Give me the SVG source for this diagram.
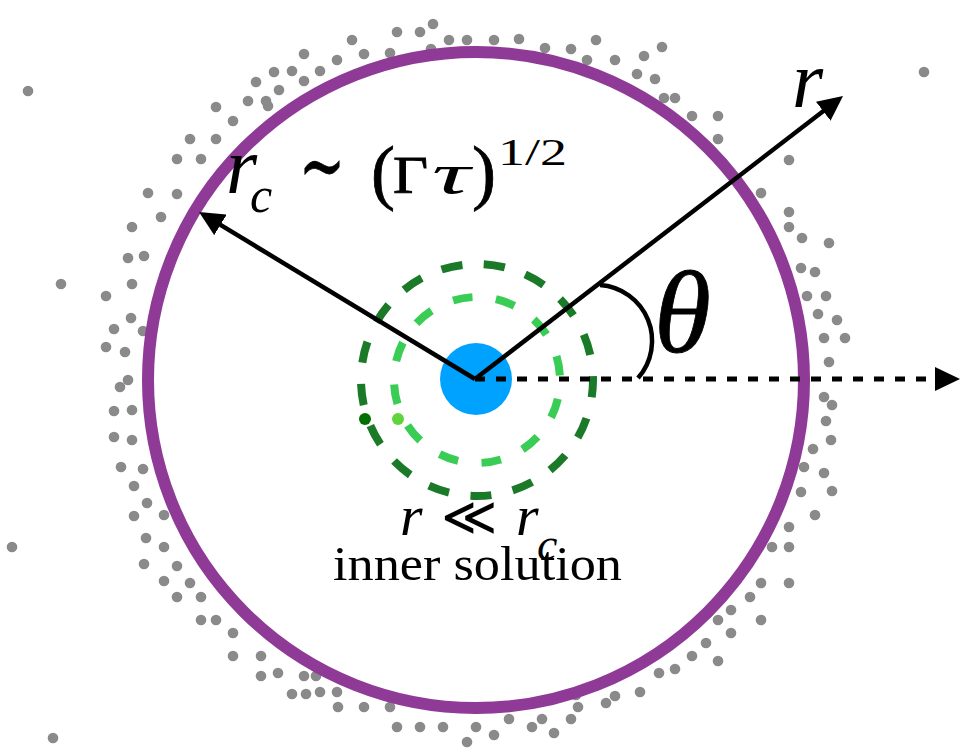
<svg xmlns="http://www.w3.org/2000/svg" width="970" height="748" viewBox="0 0 970 748">
<style>
.dot{fill:#8a8a8a}
.serif{font-family:"Liberation Serif","Times New Roman",serif;fill:#000}
.it{font-style:italic}
.ln{stroke:#000;stroke-width:4.5;fill:none}
.bold{stroke:#000;stroke-width:0.8}
</style>
<defs>
<marker id="ah" viewBox="0 0 25 24" refX="13" refY="12" markerWidth="25" markerHeight="24" markerUnits="userSpaceOnUse" orient="auto">
<path d="M0,0 L25,12 L0,24 z" fill="#000"/>
</marker>
</defs>
<rect width="970" height="748" fill="#fff"/>
<g id="particles">
<circle class="dot" cx="28" cy="91" r="5.3"/><circle class="dot" cx="304" cy="54" r="5.3"/><circle class="dot" cx="352" cy="40" r="5.3"/><circle class="dot" cx="397" cy="32" r="5.3"/><circle class="dot" cx="420" cy="32" r="5.3"/><circle class="dot" cx="433" cy="24" r="5.3"/><circle class="dot" cx="449" cy="40" r="5.3"/><circle class="dot" cx="467" cy="40" r="5.3"/><circle class="dot" cx="364" cy="54" r="5.3"/><circle class="dot" cx="390" cy="53" r="5.3"/><circle class="dot" cx="431" cy="49" r="5.3"/><circle class="dot" cx="337" cy="60" r="5.3"/><circle class="dot" cx="320" cy="71" r="5.3"/><circle class="dot" cx="292" cy="71" r="5.3"/><circle class="dot" cx="274" cy="72" r="5.3"/><circle class="dot" cx="304" cy="81" r="5.3"/><circle class="dot" cx="279" cy="90" r="5.3"/><circle class="dot" cx="256" cy="82" r="5.3"/><circle class="dot" cx="248" cy="101" r="5.3"/><circle class="dot" cx="266" cy="101" r="5.3"/><circle class="dot" cx="268" cy="106" r="5.3"/><circle class="dot" cx="216" cy="107" r="5.3"/><circle class="dot" cx="233" cy="121" r="5.3"/><circle class="dot" cx="190" cy="139" r="5.3"/><circle class="dot" cx="216" cy="139" r="5.3"/><circle class="dot" cx="177" cy="159" r="5.3"/><circle class="dot" cx="201" cy="159" r="5.3"/><circle class="dot" cx="148" cy="193" r="5.3"/><circle class="dot" cx="177" cy="194" r="5.3"/><circle class="dot" cx="161" cy="217" r="5.3"/><circle class="dot" cx="132" cy="227" r="5.3"/><circle class="dot" cx="128" cy="258" r="5.3"/><circle class="dot" cx="144" cy="256" r="5.3"/><circle class="dot" cx="61" cy="284" r="5.3"/><circle class="dot" cx="132" cy="284" r="5.3"/><circle class="dot" cx="106" cy="296" r="5.3"/><circle class="dot" cx="131" cy="318" r="5.3"/><circle class="dot" cx="114" cy="329" r="5.3"/><circle class="dot" cx="143" cy="331" r="5.3"/><circle class="dot" cx="106" cy="347" r="5.3"/><circle class="dot" cx="125" cy="352" r="5.3"/>
<circle class="dot" cx="494" cy="40" r="5.3"/><circle class="dot" cx="519" cy="39" r="5.3"/><circle class="dot" cx="545" cy="48" r="5.3"/><circle class="dot" cx="571" cy="49" r="5.3"/><circle class="dot" cx="596" cy="40" r="5.3"/><circle class="dot" cx="587" cy="60" r="5.3"/><circle class="dot" cx="615" cy="60" r="5.3"/><circle class="dot" cx="644" cy="56" r="5.3"/><circle class="dot" cx="662" cy="47" r="5.3"/><circle class="dot" cx="637" cy="74" r="5.3"/><circle class="dot" cx="655" cy="79" r="5.3"/><circle class="dot" cx="664" cy="98" r="5.3"/><circle class="dot" cx="675" cy="98" r="5.3"/><circle class="dot" cx="692" cy="116" r="5.3"/><circle class="dot" cx="718" cy="116" r="5.3"/><circle class="dot" cx="718" cy="139" r="5.3"/><circle class="dot" cx="924" cy="72" r="5.3"/><circle class="dot" cx="789" cy="160" r="5.3"/><circle class="dot" cx="761" cy="193" r="5.3"/><circle class="dot" cx="789" cy="212" r="5.3"/><circle class="dot" cx="789" cy="227" r="5.3"/><circle class="dot" cx="802" cy="238" r="5.3"/><circle class="dot" cx="829" cy="243" r="5.3"/><circle class="dot" cx="801" cy="268" r="5.3"/><circle class="dot" cx="815" cy="272" r="5.3"/><circle class="dot" cx="807" cy="296" r="5.3"/><circle class="dot" cx="826" cy="296" r="5.3"/><circle class="dot" cx="818" cy="314" r="5.3"/><circle class="dot" cx="837" cy="320" r="5.3"/><circle class="dot" cx="824" cy="338" r="5.3"/><circle class="dot" cx="845" cy="338" r="5.3"/><circle class="dot" cx="829" cy="362" r="5.3"/>
<circle class="dot" cx="128" cy="380" r="5.3"/><circle class="dot" cx="120" cy="387" r="5.3"/><circle class="dot" cx="114" cy="411" r="5.3"/><circle class="dot" cx="132" cy="410" r="5.3"/><circle class="dot" cx="114" cy="437" r="5.3"/><circle class="dot" cx="132" cy="440" r="5.3"/><circle class="dot" cx="121" cy="467" r="5.3"/><circle class="dot" cx="143" cy="469" r="5.3"/><circle class="dot" cx="134" cy="486" r="5.3"/><circle class="dot" cx="147" cy="503" r="5.3"/><circle class="dot" cx="134" cy="516" r="5.3"/><circle class="dot" cx="164" cy="515" r="5.3"/><circle class="dot" cx="12" cy="547" r="5.3"/><circle class="dot" cx="146" cy="538" r="5.3"/><circle class="dot" cx="164" cy="547" r="5.3"/><circle class="dot" cx="144" cy="564" r="5.3"/><circle class="dot" cx="177" cy="566" r="5.3"/><circle class="dot" cx="164" cy="581" r="5.3"/><circle class="dot" cx="190" cy="583" r="5.3"/><circle class="dot" cx="177" cy="597" r="5.3"/><circle class="dot" cx="201" cy="597" r="5.3"/><circle class="dot" cx="201" cy="620" r="5.3"/><circle class="dot" cx="216" cy="620" r="5.3"/><circle class="dot" cx="233" cy="633" r="5.3"/><circle class="dot" cx="233" cy="656" r="5.3"/><circle class="dot" cx="261" cy="656" r="5.3"/><circle class="dot" cx="261" cy="676" r="5.3"/><circle class="dot" cx="278" cy="673" r="5.3"/><circle class="dot" cx="304" cy="676" r="5.3"/><circle class="dot" cx="316" cy="676" r="5.3"/><circle class="dot" cx="292" cy="694" r="5.3"/><circle class="dot" cx="306" cy="694" r="5.3"/><circle class="dot" cx="320" cy="692" r="5.3"/><circle class="dot" cx="337" cy="692" r="5.3"/><circle class="dot" cx="338" cy="707" r="5.3"/><circle class="dot" cx="364" cy="707" r="5.3"/><circle class="dot" cx="390" cy="707" r="5.3"/><circle class="dot" cx="397" cy="727" r="5.3"/><circle class="dot" cx="420" cy="727" r="5.3"/><circle class="dot" cx="443" cy="727" r="5.3"/><circle class="dot" cx="476" cy="727" r="5.3"/><circle class="dot" cx="467" cy="742" r="5.3"/><circle class="dot" cx="53" cy="738" r="5.3"/>
<circle class="dot" cx="824" cy="397" r="5.3"/><circle class="dot" cx="832" cy="405" r="5.3"/><circle class="dot" cx="826" cy="421" r="5.3"/><circle class="dot" cx="831" cy="440" r="5.3"/><circle class="dot" cx="813" cy="449" r="5.3"/><circle class="dot" cx="804" cy="467" r="5.3"/><circle class="dot" cx="824" cy="473" r="5.3"/><circle class="dot" cx="801" cy="492" r="5.3"/><circle class="dot" cx="832" cy="491" r="5.3"/><circle class="dot" cx="815" cy="515" r="5.3"/><circle class="dot" cx="789" cy="527" r="5.3"/><circle class="dot" cx="772" cy="547" r="5.3"/><circle class="dot" cx="789" cy="547" r="5.3"/><circle class="dot" cx="761" cy="583" r="5.3"/><circle class="dot" cx="789" cy="583" r="5.3"/><circle class="dot" cx="750" cy="597" r="5.3"/><circle class="dot" cx="731" cy="610" r="5.3"/><circle class="dot" cx="718" cy="620" r="5.3"/><circle class="dot" cx="761" cy="620" r="5.3"/><circle class="dot" cx="731" cy="633" r="5.3"/><circle class="dot" cx="706" cy="643" r="5.3"/><circle class="dot" cx="692" cy="656" r="5.3"/><circle class="dot" cx="718" cy="661" r="5.3"/><circle class="dot" cx="675" cy="669" r="5.3"/><circle class="dot" cx="659" cy="673" r="5.3"/><circle class="dot" cx="640" cy="692" r="5.3"/><circle class="dot" cx="615" cy="696" r="5.3"/><circle class="dot" cx="606" cy="703" r="5.3"/><circle class="dot" cx="576" cy="695" r="5.3"/><circle class="dot" cx="578" cy="707" r="5.3"/><circle class="dot" cx="571" cy="719" r="5.3"/><circle class="dot" cx="542" cy="719" r="5.3"/><circle class="dot" cx="532" cy="727" r="5.3"/><circle class="dot" cx="554" cy="733" r="5.3"/><circle class="dot" cx="509" cy="719" r="5.3"/><circle class="dot" cx="494" cy="735" r="5.3"/>
</g>
<g id="critical-radius-circle">
<circle cx="476" cy="380" r="328" fill="none" stroke="#8e3a96" stroke-width="12"/>
</g>
<g id="outer-ring">
<circle cx="477" cy="380" r="116" fill="none" stroke="#1a7a28" stroke-width="8" pathLength="360" stroke-dasharray="10.5 10.676" stroke-dashoffset="1.9"/>
<circle cx="365" cy="419" r="6" fill="#007000"/>
</g>
<g id="inner-ring">
<circle cx="477" cy="380" r="83" fill="none" stroke="#3acd55" stroke-width="8" pathLength="360" stroke-dasharray="13.6 16.4" stroke-dashoffset="-13.2"/>
<circle cx="398" cy="419" r="6" fill="#5fd43c"/>
</g>
<g id="center">
<circle cx="476" cy="379" r="36" fill="#00a2ff"/>
</g>
<g id="connectors">
<line class="ln" x1="475" y1="379" x2="209.3" y2="218.2" marker-end="url(#ah)"/>
<line class="ln" x1="475" y1="379" x2="833.5" y2="103.3" marker-end="url(#ah)"/>
<line x1="475" y1="379" x2="948" y2="379" stroke="#000" stroke-width="5" stroke-dasharray="10 11" marker-end="url(#ah)"/>
<path class="ln" d="M600,285 A56,56 0 0 1 638,378" stroke-width="4"/>
</g>
<g id="labels">
<text class="serif it" x="226" y="193" font-size="80">r</text>
<text class="serif it" x="250" y="212" font-size="50">c</text>
<text class="bold" x="299" y="194" font-size="84" font-family="DejaVu Serif, serif" textLength="46" lengthAdjust="spacingAndGlyphs">∼</text>
<text class="serif bold" x="371" y="196" font-size="72">(</text>
<text class="serif bold" x="393" y="193" font-size="52" textLength="35" lengthAdjust="spacingAndGlyphs">Γ</text>
<text class="serif it" x="432" y="193" font-size="58" textLength="38" lengthAdjust="spacingAndGlyphs">τ</text>
<text class="serif bold" x="472" y="196" font-size="72">)</text>
<text class="serif" x="498" y="165" font-size="38" textLength="69" lengthAdjust="spacingAndGlyphs">1/2</text>
<text class="serif it" x="792" y="107" font-size="80">r</text>
<text class="serif it bold" x="654" y="352" font-size="116">θ</text>
<text class="serif it" x="400" y="535" font-size="58">r</text>
<text class="serif" x="441" y="535" font-size="54" font-family="DejaVu Serif, serif">≪</text>
<text class="serif it" x="516" y="535" font-size="58">r</text>
<text class="serif it" x="537" y="560" font-size="46">c</text>
<text class="serif" x="333" y="580" font-size="48" textLength="289" lengthAdjust="spacingAndGlyphs">inner solution</text>
</g>
</svg>
